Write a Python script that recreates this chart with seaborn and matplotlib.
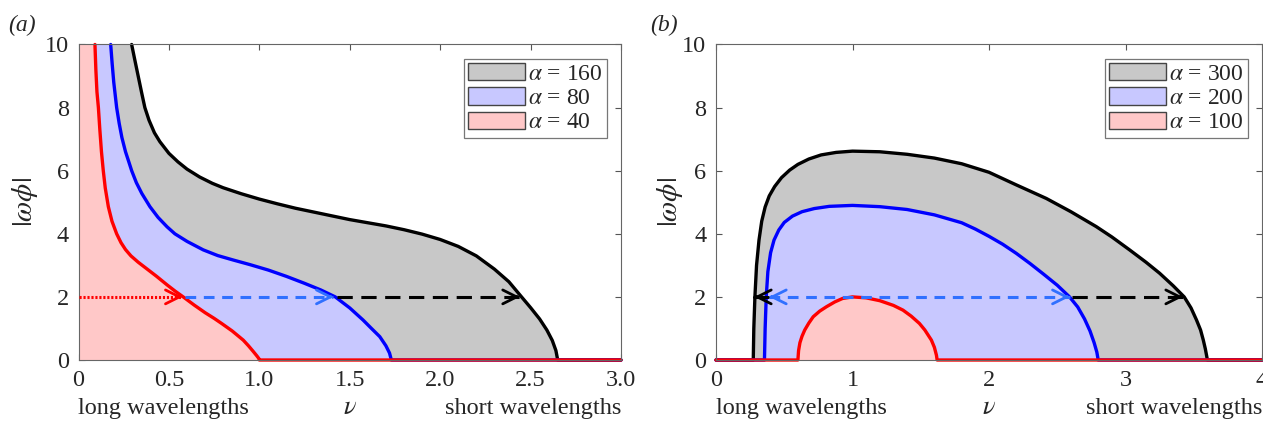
import matplotlib
matplotlib.use("Agg")
import matplotlib.pyplot as plt
import matplotlib.transforms as mtransforms
from matplotlib.patches import Patch
import seaborn as sns

# panel (a): |omega phi| against nu
a_labels = [r"$\alpha$ = 160", r"$\alpha$ = 80", r"$\alpha$ = 40"]
a_black_nu = [0.294, 0.31, 0.33, 0.35, 0.367, 0.39, 0.42, 0.45, 0.50, 0.55, 0.60, 0.67,
              0.74, 0.80, 0.90, 1.00, 1.10, 1.20, 1.30, 1.40, 1.50, 1.60, 1.70, 1.80,
              1.90, 2.00, 2.10, 2.20, 2.30, 2.38, 2.45, 2.50, 2.55, 2.59, 2.62, 2.64, 2.65]
a_black_w = [10.0, 9.55, 9.0, 8.45, 8.0, 7.6, 7.2, 6.92, 6.55, 6.28, 6.05, 5.8,
             5.6, 5.46, 5.27, 5.1, 4.95, 4.81, 4.69, 4.57, 4.45, 4.35, 4.25, 4.13,
             3.99, 3.82, 3.6, 3.3, 2.88, 2.48, 2.0, 1.66, 1.3, 0.95, 0.62, 0.3, 0.0]
a_blue_nu = [0.178, 0.186, 0.195, 0.203, 0.211, 0.225, 0.24, 0.26, 0.28, 0.294, 0.32, 0.35,
             0.395, 0.44, 0.49, 0.533, 0.60, 0.69, 0.77, 0.855, 0.95, 1.05, 1.15, 1.25,
             1.34, 1.42, 1.50, 1.573, 1.62, 1.666, 1.70, 1.72, 1.73]
a_blue_w = [10.0, 9.4, 8.8, 8.4, 8.0, 7.5, 7.05, 6.6, 6.25, 6.0, 5.62, 5.28,
            4.86, 4.52, 4.22, 4.0, 3.76, 3.49, 3.31, 3.17, 3.02, 2.85, 2.65, 2.43,
            2.22, 2.0, 1.65, 1.27, 1.0, 0.74, 0.45, 0.22, 0.0]
a_red_nu = [0.091, 0.096, 0.102, 0.11, 0.118, 0.127, 0.137, 0.148, 0.165, 0.185, 0.211, 0.235,
            0.26, 0.29, 0.33, 0.38, 0.43, 0.49, 0.535, 0.579, 0.64, 0.70, 0.75, 0.791,
            0.85, 0.911, 0.94, 0.965, 0.985, 0.997, 1.0]
a_red_w = [10.0, 9.2, 8.5, 8.0, 7.3, 6.6, 6.0, 5.45, 4.86, 4.4, 4.0, 3.72,
           3.5, 3.3, 3.1, 2.88, 2.66, 2.38, 2.18, 2.0, 1.74, 1.5, 1.32, 1.16,
           0.92, 0.63, 0.45, 0.28, 0.14, 0.05, 0.0]
a_arrow_start = [0.0, 0.59, 1.43]
a_arrow_end = [0.575, 1.41, 2.44]

# panel (b)
b_labels = [r"$\alpha$ = 300", r"$\alpha$ = 200", r"$\alpha$ = 100"]
b_black_nu = [0.0, 0.273, 0.277, 0.285, 0.297, 0.315, 0.335, 0.36, 0.39, 0.43, 0.48, 0.54,
              0.60, 0.68, 0.77, 0.88, 1.0, 1.2, 1.4, 1.6, 1.8, 2.0, 2.2, 2.42, 2.6,
              2.785, 2.9, 3.03, 3.15, 3.25, 3.35, 3.43, 3.48, 3.52, 3.55, 3.57, 3.585,
              3.595, 3.60, 4.0]
b_black_w = [0.0, 0.0, 1.0, 2.0, 3.0, 3.8, 4.4, 4.85, 5.2, 5.5, 5.78, 6.02,
             6.2, 6.37, 6.5, 6.58, 6.62, 6.6, 6.52, 6.4, 6.22, 5.95, 5.55, 5.12, 4.7,
             4.23, 3.9, 3.49, 3.1, 2.75, 2.35, 2.0, 1.65, 1.27, 0.95, 0.63, 0.35,
             0.12, 0.0, 0.0]
b_blue_nu = [0.0, 0.355, 0.36, 0.368, 0.38, 0.40, 0.425, 0.46, 0.50, 0.56, 0.63, 0.72,
             0.83, 1.0, 1.2, 1.4, 1.6, 1.8, 1.9, 2.0, 2.1, 2.2, 2.3, 2.4, 2.5, 2.59,
             2.65, 2.70, 2.74, 2.77, 2.79, 2.80, 4.0]
b_blue_w = [0.0, 0.0, 1.0, 2.0, 2.8, 3.4, 3.8, 4.12, 4.36, 4.56, 4.7, 4.8,
            4.87, 4.9, 4.86, 4.77, 4.6, 4.35, 4.15, 3.92, 3.67, 3.38, 3.06, 2.72, 2.37, 2.0,
            1.68, 1.3, 0.92, 0.55, 0.25, 0.0, 0.0]
b_red_nu = [0.0, 0.60, 0.605, 0.615, 0.63, 0.65, 0.68, 0.712, 0.76, 0.81, 0.87, 0.927,
            1.0, 1.1, 1.2, 1.3, 1.37, 1.43, 1.49, 1.53, 1.578, 1.60, 1.615, 1.62, 4.0]
b_red_w = [0.0, 0.0, 0.3, 0.55, 0.75, 0.95, 1.17, 1.37, 1.55, 1.69, 1.84, 1.95,
           2.0, 1.97, 1.88, 1.73, 1.58, 1.39, 1.16, 0.95, 0.63, 0.4, 0.15, 0.0, 0.0]
b_arrow_start = [0.383, 0.39, 2.61]
b_arrow_end = [0.28, 2.59, 3.42]

fills = ["#c8c8c8", "#c8c8ff", "#ffc8c8"]
lines = ["black", "#0000ff", "#ff0000"]
arrow_colors = ["#ff0000", "#3070ff", "black"]

sns.set_theme(style="ticks")
plt.rcParams["font.family"] = ["Liberation Serif", "DejaVu Serif"]
plt.rcParams["mathtext.fontset"] = "stix"

fig = plt.figure(figsize=(12.63, 4.23), dpi=100)
ax1 = fig.add_axes([78.5 / 1263, 63 / 423, 542.5 / 1263, 315.5 / 423])
ax2 = fig.add_axes([716 / 1263, 63 / 423, 546 / 1263, 315.5 / 423])

# (a) fills left of each curve, the zero baseline is added to the line
curves_a = [(a_black_nu, a_black_w), (a_blue_nu, a_blue_w), (a_red_nu, a_red_w)]
for (nu, w), fc in zip(curves_a, fills):
    ax1.fill_betweenx(w, 0, nu, color=fc, lw=0)
for (nu, w), lc in zip(curves_a, lines):
    sns.lineplot(x=nu + [3.0], y=w + [0.0], sort=False, estimator=None,
                 color=lc, lw=2.4, ax=ax1)

# (b)
curves_b = [(b_black_nu, b_black_w), (b_blue_nu, b_blue_w), (b_red_nu, b_red_w)]
for (nu, w), fc in zip(curves_b, fills):
    ax2.fill_between(nu, w, 0, color=fc, lw=0)
for (nu, w), lc in zip(curves_b, lines):
    sns.lineplot(x=nu, y=w, sort=False, estimator=None, color=lc, lw=2.4, ax=ax2)

for ax in (ax1, ax2):
    for ln in ax.lines:
        ln.set_clip_on(False)
        ln.set_solid_joinstyle("round")

head = "->,head_length=0.5,head_width=0.25"


def arrow(ax, s, e, color, ls, both=False):
    ax.plot([s, e], [2, 2], ls=ls, color=color, lw=2.2, zorder=5)
    d = 0.02 if e > s else -0.02
    ax.annotate("", xy=(e, 2), xytext=(e - d, 2),
                arrowprops=dict(arrowstyle=head, color=color, lw=2.0,
                                mutation_scale=20, shrinkA=0, shrinkB=0), zorder=6)
    if both:
        ax.annotate("", xy=(s, 2), xytext=(s + d, 2),
                    arrowprops=dict(arrowstyle=head, color=color, lw=2.0,
                                    mutation_scale=20, shrinkA=0, shrinkB=0), zorder=6)


arrow(ax1, a_arrow_start[0], a_arrow_end[0], arrow_colors[0], (0, (0.7, 0.6)))
arrow(ax1, a_arrow_start[1], a_arrow_end[1], arrow_colors[1], (0, (3.5, 2.5)))
arrow(ax1, a_arrow_start[2], a_arrow_end[2], arrow_colors[2], (0, (5, 2.8)))
arrow(ax2, b_arrow_start[0], b_arrow_end[0], "black", "-")
arrow(ax2, b_arrow_start[1], b_arrow_end[1], arrow_colors[1], (0, (3.5, 2.5)), both=True)
arrow(ax2, b_arrow_start[2], b_arrow_end[2], arrow_colors[2], (0, (5, 2.8)))

ax1.set_xlim(0, 3)
ax1.set_xticks([0, 0.5, 1.0, 1.5, 2.0, 2.5, 3.0])
ax1.set_xticklabels(["0", "0.5", "1.0", "1.5", "2.0", "2.5", "3.0"])
ax2.set_xlim(0, 4)
ax2.set_xticks([0, 1, 2, 3, 4])
ax2.set_xticklabels(["0", "1", "2", "3", "4"])

for ax, labels, lab_x in ((ax1, a_labels, -38 / 542.5), (ax2, b_labels, -31 / 546)):
    ax.set_ylim(0, 10)
    ax.set_yticks([0, 2, 4, 6, 8, 10])
    ax.set_xlabel("")
    ax.set_ylabel(r"$|\omega\phi|$", fontsize=21)
    ax.yaxis.set_label_coords(lab_x, 0.5)
    ax.tick_params(direction="in", top=True, right=True, length=4, width=0.8,
                   color="#555555", labelsize=17.5, pad=7)
    for sp in ax.spines.values():
        sp.set_color("#666666")
        sp.set_linewidth(0.8)
    trans = mtransforms.blended_transform_factory(ax.transData, ax.transAxes)
    x0, x1 = ax.get_xlim()
    ax.text(x0, -0.171, "long wavelengths", transform=trans, ha="left", va="baseline", fontsize=17.5)
    ax.text((x0 + x1) / 2, -0.171, r"$\nu$", transform=trans, ha="center", va="baseline", fontsize=19)
    ax.text(x1, -0.171, "short wavelengths", transform=trans, ha="right", va="baseline", fontsize=17.5)
    handles = [Patch(facecolor=fc, edgecolor="#444444", lw=1.0) for fc in fills]
    leg = ax.legend(handles, labels, loc="upper right", fontsize=17, frameon=True,
                    fancybox=False, framealpha=1, edgecolor="#777777",
                    handlelength=2.4, handleheight=0.76, handletextpad=0.12,
                    labelspacing=0.1, borderpad=0.18, borderaxespad=0.6)
    leg.get_frame().set_linewidth(0.9)

fig.text(21.7 / 1263, 1 - 25 / 423, "(a)", fontsize=17, style="italic", ha="center", va="center")
fig.text(664 / 1263, 1 - 25 / 423, "(b)", fontsize=17, style="italic", ha="center", va="center")

fig.savefig("out.png", dpi=100)
